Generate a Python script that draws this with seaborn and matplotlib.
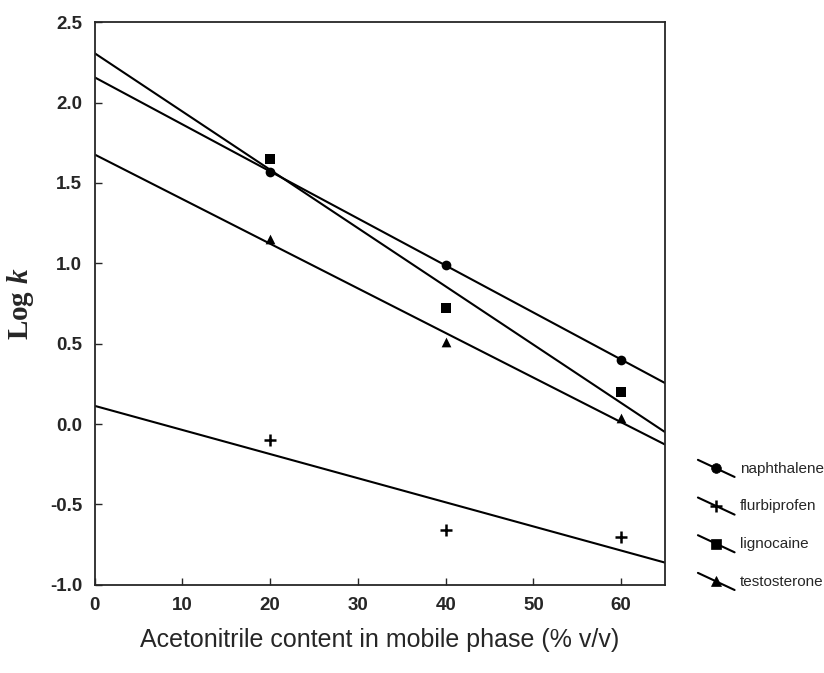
import numpy as np
import pandas as pd
import seaborn as sns
import matplotlib
matplotlib.use("Agg")
import matplotlib.pyplot as plt
from matplotlib.lines import Line2D
from matplotlib.legend_handler import HandlerBase

# acetonitrile content (% v/v) and measured log k
acn = [20, 40, 60]
naphthalene = [1.57, 0.99, 0.40]
flurbiprofen = [-0.10, -0.66, -0.70]
lignocaine = [1.65, 0.72, 0.20]
testosterone = [1.15, 0.51, 0.04]

compounds = ["naphthalene", "flurbiprofen", "lignocaine", "testosterone"]
markers = ["o", "+", "s", "^"]
msizes = [7, 9, 7, 7]

df = pd.DataFrame({
    "acn": acn * 4,
    "logk": naphthalene + flurbiprofen + lignocaine + testosterone,
    "compound": np.repeat(compounds, len(acn)),
})

sns.set_style("ticks")
plt.rcParams["font.family"] = ["Liberation Sans", "DejaVu Sans"]
plt.rcParams["mathtext.fontset"] = "custom"
plt.rcParams["mathtext.bf"] = "Liberation Serif:bold"
plt.rcParams["mathtext.it"] = "Liberation Serif:italic:bold"
plt.rcParams["mathtext.rm"] = "Liberation Serif:bold"

fig = plt.figure(figsize=(8.24, 6.73), dpi=100)
ax = fig.add_axes([0.115, 0.131, 0.692, 0.836])

for name, mk, ms in zip(compounds, markers, msizes):
    ax.set_xlim(0, 65)
    sub = df[df["compound"] == name]
    sns.regplot(data=sub, x="acn", y="logk", ax=ax, ci=None, truncate=False,
                marker=mk, color="black",
                scatter_kws={"s": ms ** 2, "linewidths": 1.8 if mk == "+" else 0,
                             "alpha": 1},
                line_kws={"lw": 1.5})

ax.set_xlim(0, 65)
ax.set_ylim(-1.0, 2.5)
ax.set_xticks(np.arange(0, 70, 10))
ax.set_yticks(np.arange(-1.0, 2.51, 0.5))
ax.set_yticklabels([f"{v:.1f}" for v in np.arange(-1.0, 2.51, 0.5)])
ax.tick_params(direction="in", length=5, width=1, labelsize=13.5, pad=9)
for lab in ax.get_xticklabels() + ax.get_yticklabels():
    lab.set_fontweight("bold")
for s in ax.spines.values():
    s.set_visible(True)
    s.set_linewidth(1.3)

ax.set_xlabel("Acetonitrile content in mobile phase (% v/v)", fontsize=18, labelpad=10)
ax.set_ylabel(r"$\mathbf{Log}\ \mathit{k}$", fontsize=21, labelpad=10)


class SlopeHandler(HandlerBase):
    def create_artists(self, legend, orig, xdescent, ydescent, width, height,
                       fontsize, trans):
        x0, x1 = -xdescent, -xdescent + width
        y0, y1 = -ydescent + height * 1.2, -ydescent - height * 0.4
        line = Line2D([x0, x1], [y0, y1], color="black", lw=1.5, transform=trans)
        dot = Line2D([(x0 + x1) / 2], [(y0 + y1) / 2], marker=orig.get_marker(),
                     ms=orig.get_markersize(), mew=orig.get_markeredgewidth(),
                     color="black", ls="none", transform=trans)
        return [line, dot]


handles = [Line2D([], [], marker=mk, ms=ms, mew=1.8 if mk == "+" else 0.5,
                  color="black", ls="none")
           for mk, ms in zip(markers, msizes)]
fig.legend(handles, compounds, handler_map={Line2D: SlopeHandler()},
           loc="upper left", bbox_to_anchor=(0.847, 0.314), frameon=False,
           fontsize=11, handlelength=2.4, labelspacing=1.55, handletextpad=0.35,
           borderaxespad=0, borderpad=0)

plt.savefig("out.png", dpi=100)
plt.close()
